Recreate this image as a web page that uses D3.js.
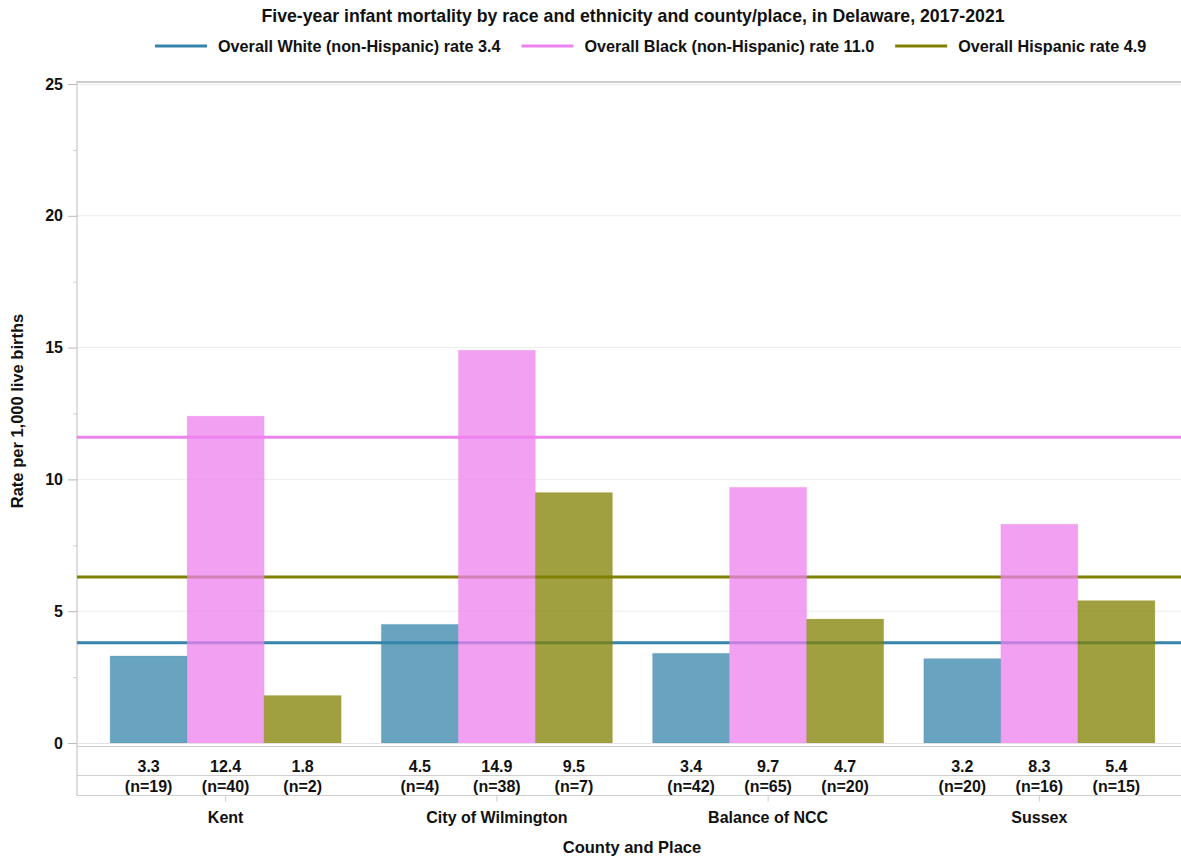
<!DOCTYPE html>
<html>
<head>
<meta charset="utf-8">
<script src="https://cdn.jsdelivr.net/npm/d3@7"></script>
<style>
  body { margin: 0; background: #fff; }
  svg text { font-family: "Liberation Sans", Arial, sans-serif; font-weight: bold; fill: #111; }
</style>
</head>
<body>
<div id="chart"></div>
<script>
// chart size
let width = 1181;
let height = 857;

// data
let places = ["Kent", "City of Wilmington", "Balance of NCC", "Sussex"];
let groups = ["white", "black", "hispanic"];
let whiteRate = [3.3, 4.5, 3.4, 3.2];
let blackRate = [12.4, 14.9, 9.7, 8.3];
let hispanicRate = [1.8, 9.5, 4.7, 5.4];
let whiteN = [19, 4, 42, 20];
let blackN = [40, 38, 65, 16];
let hispanicN = [2, 7, 20, 15];
let legendLabels = ["Overall White (non-Hispanic) rate 3.4",
                    "Overall Black (non-Hispanic) rate 11.0",
                    "Overall Hispanic rate 4.9"];
// where the reference lines are drawn in the picture
let overallLineAt = [3.8, 11.6, 6.3];
let yTicks = [0, 5, 10, 15, 20, 25];
let groupColors = ["#3684aa", "#ee82ee", "#808000"];

let rates = [whiteRate, blackRate, hispanicRate];
let counts = [whiteN, blackN, hispanicN];

let rows = [];
places.forEach(function(p, i) {
  groups.forEach(function(g, j) {
    rows.push({place: p, group: g, rate: rates[j][i], n: counts[j][i], color: groupColors[j]});
  });
});

let plot = {left: 77, right: 1188, top: 84, bottom: 743};

let svg = d3.select("#chart")
            .append("svg")
            .attr("width", width)
            .attr("height", height);

let x = d3.scaleBand()
          .domain(places)
          .range([plot.left, plot.right])
          .paddingInner(0)
          .paddingOuter(0.048);

let xSub = d3.scaleBand()
             .domain(groups)
             .range([0, x.bandwidth()])
             .paddingInner(0)
             .paddingOuter(0.261);

let y = d3.scaleLinear()
          .domain([0, 25])
          .range([plot.bottom, plot.top]);

// title
svg.append("text")
   .attr("x", 633)
   .attr("y", 22)
   .attr("text-anchor", "middle")
   .style("font-size", "17.7px")
   .text("Five-year infant mortality by race and ethnicity and county/place, in Delaware, 2017-2021");

// legend
let legend = svg.append("g").attr("transform", "translate(155,0)");
let lx = 0;
legendLabels.forEach(function(lab, i) {
  let item = legend.append("g").attr("transform", "translate(" + lx + ",0)");
  item.append("line")
      .attr("x1", 0).attr("x2", 52)
      .attr("y1", 46).attr("y2", 46)
      .style("stroke", groupColors[i])
      .style("stroke-width", 3);
  let t = item.append("text")
      .attr("x", 63)
      .attr("y", 51.5)
      .style("font-size", "16.2px")
      .text(lab);
  lx += 63 + t.node().getComputedTextLength() + 21;
});

// grid lines
svg.append("g")
   .selectAll("line")
   .data(yTicks.filter(function(d) { return d > 0 && d < 25; }))
   .enter()
   .append("line")
   .attr("x1", plot.left).attr("x2", width)
   .attr("y1", function(d) { return y(d); })
   .attr("y2", function(d) { return y(d); })
   .style("stroke", "#ececec")
   .style("stroke-width", 1);

// frame
svg.append("line")
   .attr("x1", plot.left).attr("x2", width)
   .attr("y1", 82).attr("y2", 82)
   .style("stroke", "#cfcfcf").style("stroke-width", 2);
svg.append("line")
   .attr("x1", plot.left).attr("x2", width)
   .attr("y1", 84.5).attr("y2", 84.5)
   .style("stroke", "#f0f0f0").style("stroke-width", 1.5);
svg.append("line")
   .attr("x1", plot.left).attr("x2", plot.left)
   .attr("y1", 81).attr("y2", 795.5)
   .style("stroke", "#c8c8c8").style("stroke-width", 1.2);

// y axis
let yAxis = svg.append("g")
   .attr("transform", "translate(" + plot.left + ",0)")
   .call(d3.axisLeft(y).tickValues(yTicks).tickSize(9).tickPadding(5));
yAxis.select(".domain").remove();
yAxis.selectAll(".tick line").style("stroke", "#bbb");
yAxis.selectAll(".tick text").style("font-size", "16px").style("font-family", "Liberation Sans, Arial, sans-serif").style("font-weight", "bold").attr("fill", "#111");

let yMinor = svg.append("g")
   .attr("transform", "translate(" + plot.left + ",0)")
   .call(d3.axisLeft(y).tickValues([2.5, 7.5, 12.5, 17.5, 22.5]).tickSize(4).tickFormat(""));
yMinor.select(".domain").remove();
yMinor.selectAll(".tick line").style("stroke", "#ccc");

svg.append("text")
   .attr("transform", "translate(23,411) rotate(-90)")
   .attr("text-anchor", "middle")
   .style("font-size", "16.5px")
   .text("Rate per 1,000 live births");

// overall reference lines (behind the bars)
svg.append("g")
   .selectAll("line")
   .data(overallLineAt)
   .enter()
   .append("line")
   .attr("x1", plot.left).attr("x2", width)
   .attr("y1", function(d) { return y(d); })
   .attr("y2", function(d) { return y(d); })
   .style("stroke", function(d, i) { return groupColors[i]; })
   .style("stroke-width", 3);

// bars
svg.append("g")
   .selectAll("rect")
   .data(rows)
   .enter()
   .append("rect")
   .attr("x", function(d) { return x(d.place) + xSub(d.group); })
   .attr("y", function(d) { return y(d.rate); })
   .attr("width", xSub.bandwidth())
   .attr("height", function(d) { return y(0) - y(d.rate); })
   .style("fill", function(d) { return d.color; })
   .style("fill-opacity", 0.75)
   .style("stroke", function(d) { return d.color; })
   .style("stroke-opacity", 0.2);

// table under the bars
[743.5, 746.5, 775.5, 795.5].forEach(function(ly, i) {
  svg.append("line")
     .attr("x1", plot.left).attr("x2", width)
     .attr("y1", ly).attr("y2", ly)
     .style("stroke", i === 0 ? "#e4e4e4" : "#cfcfcf")
     .style("stroke-width", 1.2);
});

let cells = svg.append("g")
   .selectAll("g")
   .data(rows)
   .enter()
   .append("g")
   .attr("transform", function(d) {
     return "translate(" + (x(d.place) + xSub(d.group) + xSub.bandwidth() / 2) + ",0)";
   });
cells.append("text")
   .attr("y", 771.5)
   .attr("text-anchor", "middle")
   .style("font-size", "16px")
   .text(function(d) { return d.rate.toFixed(1); });
cells.append("text")
   .attr("y", 792)
   .attr("text-anchor", "middle")
   .style("font-size", "16px")
   .text(function(d) { return "(n=" + d.n + ")"; });

// x axis (category labels)
let xAxis = svg.append("g")
   .attr("transform", "translate(0,795.5)")
   .call(d3.axisBottom(x).tickSize(6).tickPadding(10));
xAxis.select(".domain").remove();
xAxis.selectAll(".tick line").style("stroke", "#ccc");
xAxis.selectAll(".tick text").style("font-size", "16px").style("font-family", "Liberation Sans, Arial, sans-serif").style("font-weight", "bold").attr("fill", "#111");

svg.append("text")
   .attr("x", 632)
   .attr("y", 853)
   .attr("text-anchor", "middle")
   .style("font-size", "16.5px")
   .text("County and Place");
</script>
</body>
</html>
